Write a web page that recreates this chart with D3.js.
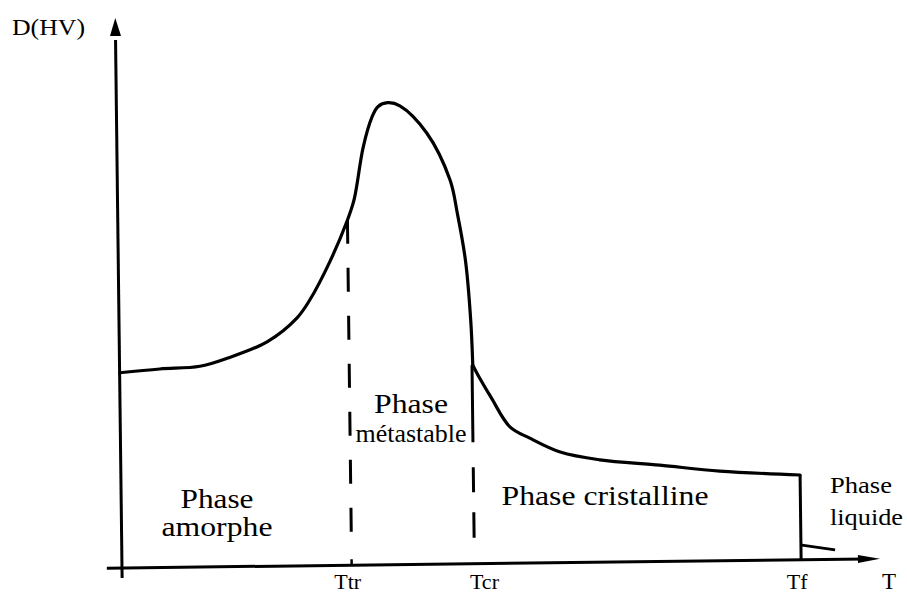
<!DOCTYPE html>
<html>
<head>
<meta charset="utf-8">
<script src="https://cdn.jsdelivr.net/npm/d3@7"></script>
<style>
  body { margin: 0; background: #fff; }
  text { font-family: "Liberation Serif", "Times New Roman", Times, serif; fill: #000; }
</style>
</head>
<body>
<svg id="chart" width="907" height="595"></svg>
<script>
// Hardness D(HV) versus temperature T (arbitrary units, 0–100 on both axes)

// amorphous rise, metastable peak and collapse down to Tcr
const riseT = [0, 5.3, 10.6, 14.2, 19.5, 23.5, 25.2, 27.9, 30.2, 31.2, 32.5, 33.7, 34.5, 35.8, 37.4, 40.9, 43.9, 44.8, 45.8, 46.4, 46.6];
const riseD = [35.5, 36.1, 36.5, 37.9, 40.8, 45.1, 48.3, 55.2, 62.4, 66.4, 76.0, 81.4, 83.3, 84.0, 83.4, 78.4, 69.8, 63.8, 55.2, 44.3, 36.1];

// crystalline branch from Tcr to the melting point Tf
const crystT = [46.6, 47.5, 49.0, 51.4, 54.0, 58.0, 63.2, 71.1, 79.0, 89.6];
const crystD = [36.1, 33.7, 30.1, 24.8, 22.7, 20.1, 18.6, 17.5, 16.3, 15.4];

// liquid phase just above Tf
const liquidT = [89.5, 94.1];
const liquidD = [2.7, 1.7];

// transition temperatures
const transitionNames = ["Ttr", "Tcr", "Tf"];
const transitionT = [30.3, 46.5, 89.6];
const dashBottomD = [5.5, 4.7];

// phase labels (lines of text) and axis titles
const phaseLines = [
  ["Phase", "amorphe"],
  ["Phase", "métastable"],
  ["Phase cristalline"],
  ["Phase", "liquide"]
];
const yTitle = "D(HV)";
const xTitle = "T";

const svg = d3.select("#chart");
const ox = 122, oy = 568;
const x = d3.scaleLinear().domain([0, 100]).range([ox, 880]);
const y = d3.scaleLinear().domain([0, 100]).range([oy, 18]);

const g = svg.append("g").attr("transform", `rotate(-0.7, ${ox}, ${oy})`);

const stroke = "#000";

// axes
g.append("line")
  .attr("x1", x(0)).attr("y1", y(-1.8))
  .attr("x2", x(0)).attr("y2", y(96))
  .attr("stroke", stroke).attr("stroke-width", 3);
g.append("path")
  .attr("d", `M${x(0)},${y(100)} L${x(0) - 5.5},${y(100) + 18} L${x(0) + 5.5},${y(100) + 18} Z`)
  .attr("fill", stroke);

g.append("line")
  .attr("x1", x(-2)).attr("y1", y(0))
  .attr("x2", x(98)).attr("y2", y(0))
  .attr("stroke", stroke).attr("stroke-width", 3);
g.append("path")
  .attr("d", `M${x(100)},${y(0)} L${x(100) - 22},${y(0) - 4} L${x(100) - 22},${y(0) + 4} Z`)
  .attr("fill", stroke);

// small tick at Ttr
g.append("line")
  .attr("x1", x(transitionT[0])).attr("x2", x(transitionT[0]))
  .attr("y1", y(0)).attr("y2", y(0) - 6)
  .attr("stroke", stroke).attr("stroke-width", 2.5);

// curve
const line = d3.line().x(d => x(d[0])).y(d => y(d[1])).curve(d3.curveCatmullRom.alpha(0.5));
const rise = riseT.map((t, i) => [t, riseD[i]]);
const cryst = crystT.map((t, i) => [t, crystD[i]]);
const liquid = liquidT.map((t, i) => [t, liquidD[i]]);

[rise, cryst].forEach(pts => {
  g.append("path").attr("d", line(pts))
    .attr("fill", "none").attr("stroke", stroke)
    .attr("stroke-width", 3.2).attr("stroke-linejoin", "round").attr("stroke-linecap", "round");
});
g.append("path").attr("d", d3.line().x(d => x(d[0])).y(d => y(d[1]))(liquid))
  .attr("fill", "none").attr("stroke", stroke).attr("stroke-width", 2.8);

// value of the curve at a given temperature
function curveAt(t, pts) {
  const i = d3.bisector(d => d[0]).left(pts, t);
  if (i <= 0) return pts[0][1];
  if (i >= pts.length) return pts[pts.length - 1][1];
  const a = pts[i - 1], b = pts[i];
  return a[1] + (b[1] - a[1]) * (t - a[0]) / (b[0] - a[0]);
}

// dashed transition lines at Ttr and Tcr
const dashes = ["24,24", "77,25,25,20,26,200"];
[0, 1].forEach(k => {
  const t = transitionT[k];
  const top = k === 0 ? curveAt(t, rise) : crystD[0];
  g.append("line")
    .attr("x1", x(t)).attr("x2", x(t))
    .attr("y1", y(top)).attr("y2", y(dashBottomD[k]))
    .attr("stroke", stroke).attr("stroke-width", 3)
    .attr("stroke-dasharray", dashes[k]);
});

// solid drop at the melting point Tf
g.append("line")
  .attr("x1", x(transitionT[2])).attr("x2", x(transitionT[2]))
  .attr("y1", y(crystD[crystD.length - 1])).attr("y2", y(0))
  .attr("stroke", stroke).attr("stroke-width", 3);

// axis titles
svg.append("text").attr("x", 12).attr("y", 35)
  .attr("font-size", 24).attr("textLength", 73).attr("lengthAdjust", "spacingAndGlyphs")
  .text(yTitle);
svg.append("text").attr("x", 889).attr("y", 589).attr("text-anchor", "middle")
  .attr("font-size", 23).text(xTitle);

// transition labels
transitionNames.forEach((name, i) => {
  svg.append("text")
    .attr("x", x(transitionT[i]) + (i === 1 ? 10 : -4))
    .attr("y", 589).attr("text-anchor", "middle")
    .attr("font-size", 22).text(name);
});

// phase labels
const phasePos = [
  { cx: 217, y: [508, 536], size: [28, 28], len: [73, 111] },
  { cx: 411, y: [413, 442], size: [28, 25], len: [74, 111] },
  { cx: 605, y: [505], size: [28], len: [207] },
  { cx: 866, y: [493, 525], size: [24, 24], len: [62, 73] }
];
phaseLines.forEach((lines, i) => {
  const p = phasePos[i];
  lines.forEach((s, j) => {
    svg.append("text")
      .attr("x", i === 3 ? 830 : p.cx - p.len[j] / 2)
      .attr("y", p.y[j])
      .attr("font-size", p.size[j])
      .attr("textLength", p.len[j]).attr("lengthAdjust", "spacingAndGlyphs")
      .text(s);
  });
});
</script>
</body>
</html>
